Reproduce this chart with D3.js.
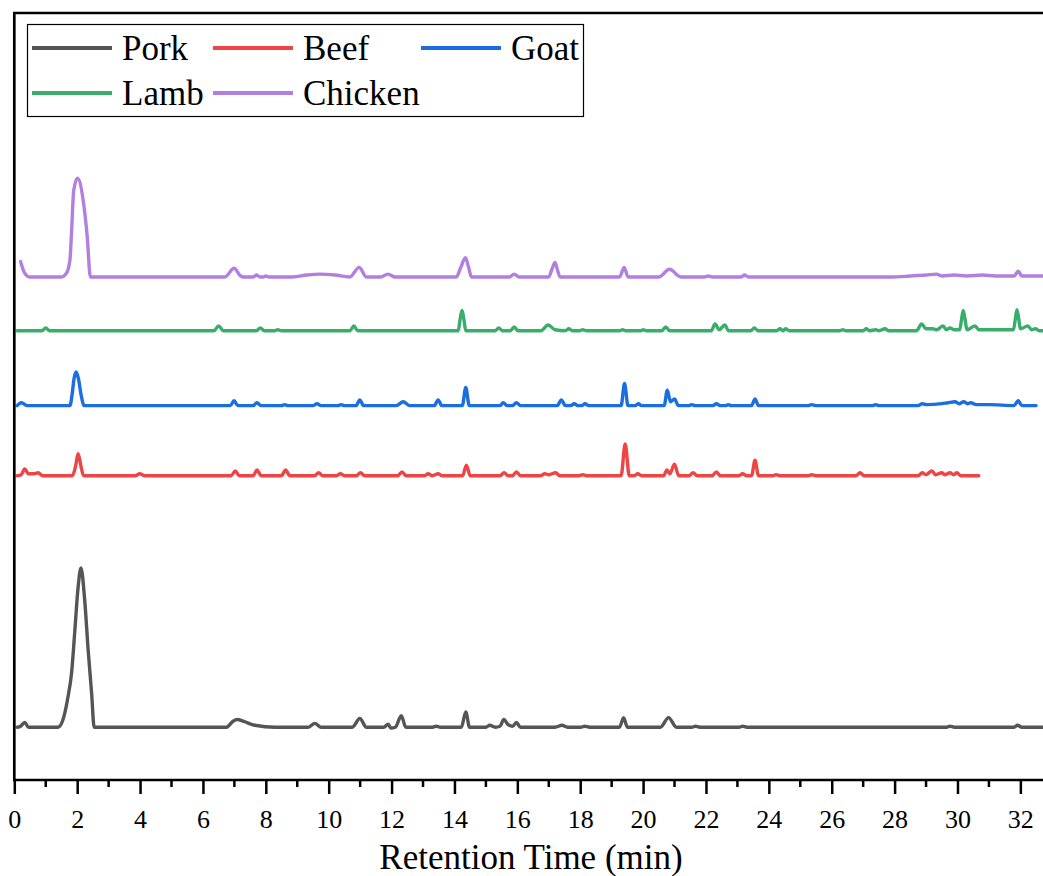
<!DOCTYPE html>
<html><head><meta charset="utf-8">
<script src="https://cdn.jsdelivr.net/npm/d3@7"></script>
<style>html,body{margin:0;padding:0;background:#fff;}svg{display:block;}</style>
</head><body>
<svg id="chart" width="1043" height="876"></svg>
<script>
// ---- data (retention time in min, signal above each trace's baseline) ----
const seriesNames = ["Pork", "Beef", "Goat", "Lamb", "Chicken"];
const seriesColors = ["#555555", "#EE4444", "#1A6EE0", "#39AD6A", "#B27FE0"];
const seriesOffsets = [55, 317, 390, 468, 524];
const xTicks = [0, 2, 4, 6, 8, 10, 12, 14, 16, 18, 20, 22, 24, 26, 28, 30, 32];

const pork = [[0.09,0],[0.2,1],[0.33,5],[0.45,0],[1.39,0],[1.55,8],[1.71,32],[1.82,56],[1.92,98],[2.03,146],[2.12,166],[2.24,132],[2.35,80],[2.46,35],[2.54,0],[6.75,0],[6.95,6],[7.09,8],[7.3,6],[7.65,2],[8.3,0],[9.35,0],[9.56,4],[9.75,0],[10.75,0],[10.99,9],[11.2,0],[11.75,0],[11.89,3],[11.98,-1],[12.12,0],[12.31,12],[12.45,0],[13.3,0],[13.43,1],[13.55,0],[14.22,0],[14.36,16],[14.48,0],[15.0,0],[15.12,2],[15.3,0],[15.45,1],[15.57,8],[15.7,3],[15.85,1],[15.97,5],[16.1,0],[17.2,0],[17.42,2],[17.6,0],[18.02,0],[18.14,1],[18.3,0],[19.25,0],[19.38,10],[19.5,0],[20.55,0],[20.81,10],[21.06,0],[21.55,0],[21.67,1],[21.8,0],[23.05,0],[23.16,1],[23.3,0],[29.65,0],[29.76,1],[29.9,0],[31.8,0],[31.91,2],[32.05,0],[32.75,0]];

const beef = [[0.09,0],[0.22,1],[0.33,7],[0.45,2],[0.6,2],[0.76,3],[0.9,0],[1.85,0],[1.95,10],[2.03,23],[2.12,10],[2.2,0],[3.85,0],[3.99,2],[4.15,0],[6.9,0],[7.03,5],[7.15,0],[7.6,0],[7.72,6],[7.85,0],[8.5,0],[8.63,6],[8.76,0],[9.55,0],[9.68,3],[9.8,0],[10.25,0],[10.37,2],[10.5,0],[10.88,0],[11.01,3],[11.14,0],[12.2,0],[12.33,4],[12.46,0],[13.05,0],[13.16,2],[13.3,0],[13.48,2],[13.6,0],[14.26,0],[14.38,11],[14.5,0],[15.45,0],[15.58,3],[15.7,0],[15.85,0],[15.97,4],[16.1,0],[16.75,0],[16.87,2],[17.0,1],[17.22,3],[17.35,0],[17.96,0],[18.08,1],[18.2,0],[19.3,0],[19.43,33],[19.56,0],[19.72,0],[19.83,2],[19.95,0],[20.65,0],[20.76,6],[20.85,2],[21.0,12],[21.13,0],[21.47,0],[21.59,3],[21.72,0],[22.2,0],[22.33,4],[22.45,0],[23.05,0],[23.16,2],[23.3,0],[23.45,0],[23.56,16],[23.67,0],[24.12,0],[24.23,1],[24.35,0],[25.25,0],[25.35,1],[25.5,0],[26.78,0],[26.9,3],[27.03,0],[28.75,0],[28.88,3],[29.0,1],[29.19,5],[29.3,1],[29.5,3],[29.6,1],[29.76,3],[29.88,1],[29.98,3],[30.1,0],[30.68,0]];

const goat = [[0.09,0],[0.23,3],[0.4,0],[1.77,0],[1.84,12],[1.9,28],[1.97,35],[2.04,28],[2.12,12],[2.22,0],[6.87,0],[6.99,5],[7.11,0],[7.6,0],[7.72,3],[7.84,0],[8.5,0],[8.6,1],[8.7,0],[9.5,0],[9.63,2],[9.75,0],[10.3,0],[10.4,1],[10.5,0],[10.87,0],[10.99,6],[11.11,0],[12.15,0],[12.37,4],[12.58,0],[13.36,0],[13.48,6],[13.6,0],[14.25,0],[14.36,19],[14.47,0],[15.45,0],[15.55,3],[15.67,0],[15.85,0],[15.97,3],[16.1,0],[17.27,0],[17.4,6],[17.53,0],[17.7,0],[17.81,2],[17.92,0],[18.05,0],[18.15,2],[18.27,0],[19.3,0],[19.41,23],[19.52,0],[19.75,0],[19.85,2],[19.95,0],[20.67,0],[20.77,16],[20.87,4],[21.0,7],[21.12,0],[21.45,0],[21.55,1],[21.65,0],[22.22,0],[22.33,2],[22.45,0],[22.62,0],[22.71,1],[22.8,0],[23.45,0],[23.56,7],[23.67,0],[25.25,0],[25.36,1],[25.5,0],[27.3,0],[27.4,1],[27.5,0],[28.75,0],[28.88,2],[29.0,1],[29.5,2],[29.7,3],[29.92,4],[30.05,2],[30.2,4],[30.32,2],[30.42,3],[30.6,1],[31.0,1],[31.8,0],[31.93,5],[32.05,0],[32.5,0]];

const lamb = [[0.09,0],[0.88,0],[1.0,3],[1.12,0],[6.35,0],[6.5,5],[6.65,0],[7.7,0],[7.83,3],[7.95,0],[8.28,0],[8.38,1],[8.5,0],[10.68,0],[10.8,5],[10.92,0],[14.12,0],[14.18,12],[14.24,21],[14.3,12],[14.36,0],[15.3,0],[15.41,3],[15.52,0],[15.78,0],[15.9,4],[16.02,0],[16.75,0],[16.98,6],[17.2,1],[17.52,0],[17.64,2],[17.75,0],[17.98,0],[18.08,1],[18.2,0],[19.25,0],[19.35,1],[19.45,0],[19.92,0],[20.01,1],[20.1,0],[20.6,0],[20.72,4],[20.84,0],[22.17,0],[22.29,7],[22.42,1],[22.6,6],[22.72,0],[23.43,0],[23.54,3],[23.65,0],[24.25,0],[24.35,2],[24.45,0],[24.53,2],[24.65,0],[26.25,0],[26.35,1],[26.45,0],[27.0,0],[27.1,2],[27.2,0],[27.4,1],[27.5,0],[27.7,2],[27.8,0],[28.7,0],[28.86,7],[29.0,2],[29.21,2],[29.35,1],[29.54,5],[29.65,1],[29.76,3],[29.9,1],[30.07,1],[30.13,12],[30.18,21],[30.24,12],[30.3,1],[30.56,5],[30.68,1],[31.0,1],[31.4,1],[31.78,1],[31.84,12],[31.89,22],[31.95,12],[32.0,2],[32.24,5],[32.36,1],[32.48,2],[32.6,0],[32.75,0]];

const chicken = [[0.2,16],[0.33,4],[0.49,0],[1.5,0],[1.66,4],[1.77,18],[1.82,46],[1.89,90],[2.01,103],[2.19,80],[2.32,42],[2.42,0],[6.7,0],[6.99,9],[7.2,1],[7.3,0],[7.6,0],[7.7,2],[7.82,0],[7.92,0],[8.0,1],[8.1,0],[8.86,0],[9.3,2],[9.72,3],[10.2,2],[10.67,0],[10.97,10],[11.2,0],[11.65,0],[11.89,3],[12.1,0],[14.06,0],[14.2,10],[14.35,20],[14.45,10],[14.54,0],[15.75,0],[15.9,3],[16.05,0],[17.0,0],[17.1,8],[17.2,15],[17.27,8],[17.36,0],[19.25,0],[19.4,10],[19.52,0],[20.5,0],[20.84,8],[21.2,0],[21.95,0],[22.06,1],[22.2,0],[23.12,0],[23.23,2],[23.35,0],[27.9,0],[28.5,1],[29.0,2],[29.33,3],[29.5,1],[29.9,2],[30.3,1],[30.8,2],[31.2,1],[31.8,1],[31.93,6],[32.05,1],[32.75,1]];

const seriesData = [pork, beef, goat, lamb, chicken];

// ---- layout ----
const W = 1043, H = 876;
const mLeft = 14.3, mRight = 1043, mTop = 13, mBottom = 780;
const svg = d3.select("#chart");
svg.append("rect").attr("width", W).attr("height", H).attr("fill", "#fff");

const x = d3.scaleLinear().domain([0, 32.72]).range([mLeft, mRight]);
const y = d3.scaleLinear().domain([0, 800]).range([mBottom, mTop - 1]);

svg.append("defs").append("clipPath").attr("id", "clip")
  .append("rect").attr("x", mLeft).attr("y", mTop).attr("width", mRight - mLeft).attr("height", mBottom - mTop);

const line = d3.line().x(d => x(d[0])).y(d => y(d[1])).curve(d3.curveMonotoneX);
const g = svg.append("g").attr("clip-path", "url(#clip)");
seriesData.forEach((s, i) => {
  g.append("path")
    .datum(s.map(p => [p[0], p[1] + seriesOffsets[i]]))
    .attr("d", line)
    .attr("fill", "none")
    .attr("stroke", seriesColors[i])
    .attr("stroke-width", 3.4)
    .attr("stroke-linejoin", "round")
    .attr("stroke-linecap", "round");
});

// ---- axes ----
const fontFam = "'Liberation Serif','Times New Roman',serif";
const xAxis = d3.axisBottom(x).tickValues(xTicks).tickSize(14).tickPadding(16).tickFormat(d3.format("d"));
const ax = svg.append("g").attr("transform", `translate(0,${mBottom})`).call(xAxis);
ax.select(".domain").remove();
ax.selectAll(".tick line").attr("stroke", "#000").attr("stroke-width", 2.5);
ax.selectAll(".tick text").attr("font-family", fontFam).attr("font-size", 26).attr("fill", "#000");
const minor = d3.range(1, 33, 2);
svg.append("g").selectAll("line").data(minor).join("line")
  .attr("x1", d => x(d)).attr("x2", d => x(d))
  .attr("y1", mBottom).attr("y2", mBottom + 7)
  .attr("stroke", "#000").attr("stroke-width", 2.5);

// frame: bottom, left, top
svg.append("path")
  .attr("d", `M${mRight + 2},${mTop} L${mLeft},${mTop} L${mLeft},${mBottom} L${mRight + 2},${mBottom}`)
  .attr("fill", "none").attr("stroke", "#000").attr("stroke-width", 2.7);

svg.append("text").attr("x", 531).attr("y", 869).attr("text-anchor", "middle")
  .attr("font-family", fontFam).attr("font-size", 35).attr("fill", "#000")
  .text("Retention Time (min)");

// ---- legend ----
const lg = svg.append("g");
lg.append("rect").attr("x", 27.5).attr("y", 24.5).attr("width", 556).attr("height", 92)
  .attr("fill", "#fff").attr("stroke", "#000").attr("stroke-width", 1.2);
const legendPos = [[32, 48], [213, 48], [421, 48], [32, 93], [213, 93]];
seriesNames.forEach((n, i) => {
  const [lx, ly] = legendPos[i];
  lg.append("line").attr("x1", lx).attr("x2", lx + 80).attr("y1", ly).attr("y2", ly)
    .attr("stroke", seriesColors[i]).attr("stroke-width", 4);
  lg.append("text").attr("x", lx + 90).attr("y", ly + 12)
    .attr("font-family", fontFam).attr("font-size", 35).attr("fill", "#000").text(n);
});
</script>
</body></html>
